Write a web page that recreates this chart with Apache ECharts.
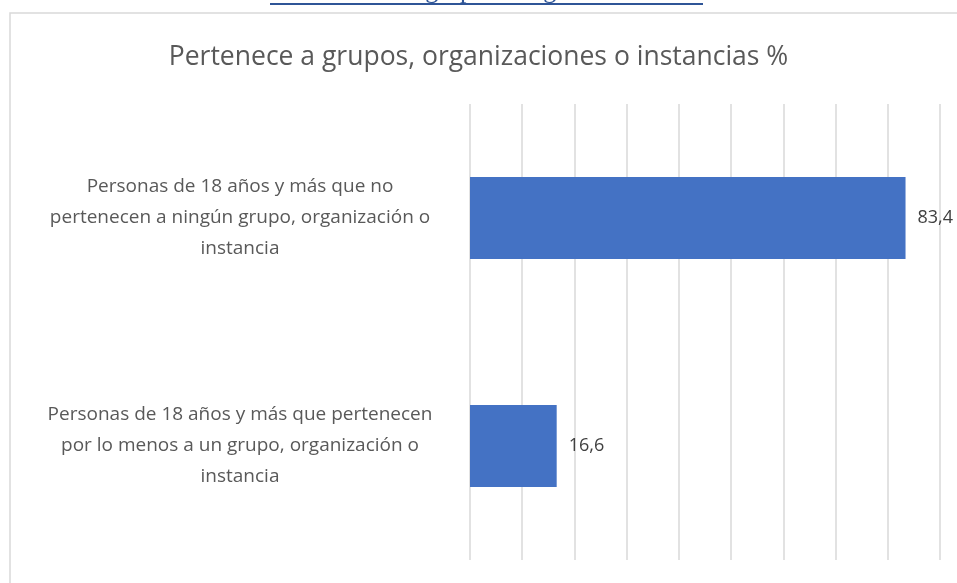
<!DOCTYPE html>
<html>
<head>
<meta charset="utf-8">
<script src="https://cdn.jsdelivr.net/npm/echarts@6/dist/echarts.min.js"></script>
<style>
  html, body { margin: 0; padding: 0; background: #fff; }
  #chart { width: 957px; height: 583px; }
</style>
</head>
<body>
<div id="chart"></div>
<script>
// categories, top to bottom
const categories = [
  'Personas de 18 años y más que no\npertenecen a ningún grupo, organización o\ninstancia',
  'Personas de 18 años y más que pertenecen\npor lo menos a un grupo, organización o\ninstancia'
]
const values = [83.4, 16.6]
const xTicks = [0, 10, 20, 30, 40, 50, 60, 70, 80, 90]

const chart = echarts.init(document.getElementById('chart'))

const font = '"Open Sans", sans-serif'

const option = {
  animation: false,
  title: {
    text: 'Pertenece a grupos, organizaciones o instancias %',
    left: 'center',
    top: 39,
    textStyle: { fontFamily: font, fontSize: 26.5, fontWeight: 'normal', color: '#595959' }
  },
  graphic: [
    {
      type: 'rect',
      shape: { x: 10, y: 13, width: 1000, height: 700 },
      style: { fill: 'none', stroke: '#d9d9d9', lineWidth: 1.5 },
      z: -1
    },
    {
      type: 'text',
      left: 'center',
      top: -22,
      style: {
        text: 'Pertenencia a grupos u organizaciones',
        fontFamily: '"Liberation Serif", serif',
        fontSize: 26,
        fill: '#2f5597'
      }
    },
    {
      type: 'line',
      shape: { x1: 270, y1: 4, x2: 703, y2: 4 },
      style: { stroke: '#2f5597', lineWidth: 2 }
    }
  ],
  grid: { left: 470, right: 17, top: 104, bottom: 23 },
  xAxis: {
    type: 'value',
    min: xTicks[0],
    max: xTicks[xTicks.length - 1],
    interval: 10,
    axisLabel: { show: false },
    axisLine: { show: false },
    axisTick: { show: false },
    splitLine: { lineStyle: { color: '#d9d9d9', width: 1.5 } }
  },
  yAxis: {
    type: 'category',
    inverse: true,
    data: categories,
    axisLine: { show: false },
    axisTick: { show: false },
    axisLabel: {
      margin: 230,
      align: 'center',
      fontFamily: font,
      fontSize: 19,
      lineHeight: 31,
      color: '#595959'
    }
  },
  series: [
    {
      type: 'bar',
      data: values,
      barCategoryGap: '64%',
      itemStyle: { color: '#4472c4' },
      label: {
        show: true,
        position: 'right',
        distance: 12,
        fontFamily: font,
        fontSize: 18,
        color: '#404040',
        formatter: p => String(p.value).replace('.', ',')
      }
    }
  ]
}

chart.setOption(option)
</script>
</body>
</html>
